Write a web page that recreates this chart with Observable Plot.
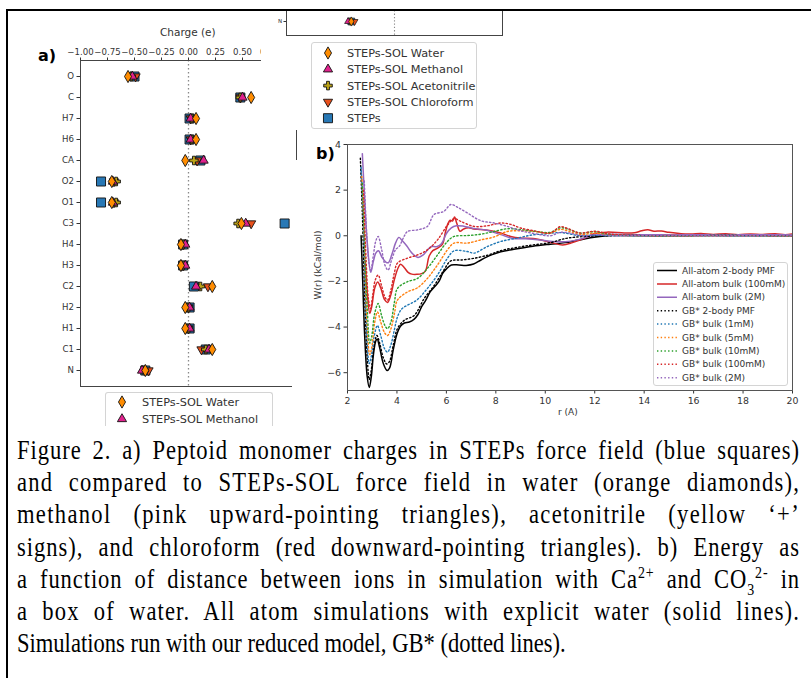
<!DOCTYPE html>
<html>
<head>
<meta charset="utf-8">
<script src="https://cdn.jsdelivr.net/npm/d3@7"></script>
<script src="https://cdn.jsdelivr.net/npm/@observablehq/plot@0.6"></script>
<style>
  html, body { margin: 0; padding: 0; background: #fff; }
  #fig { position: relative; width: 811px; height: 678px; overflow: hidden; background: #fff; font-family: "DejaVu Sans", sans-serif; color: #333; }
  #fig > * { position: absolute; }
  .panel-tag { font-weight: bold; font-size: 16px; color: #000; }
  .lbl { font-size: 9px; color: #333; white-space: nowrap; }
  .legend { background: rgba(255,255,255,0.85); border: 1px solid #d4d4d4; border-radius: 3px; box-sizing: border-box; overflow: hidden; }
  #caption { left: 0; top: 426px; width: 811px; height: 252px; background: #fff; font-family: "Liberation Serif", "Times New Roman", serif; color: #000; }
  #caption .inner { position: absolute; left: 17px; top: 8px; transform-origin: 0 0; }
  #caption .line { height: 32.2px; line-height: 32.2px; text-align: justify; text-align-last: justify; white-space: nowrap; }
  #caption .line.last { text-align-last: left; }
  #caption sup, #caption sub { font-size: 62%; line-height: 0; }
  .bar { background: #000; }
</style>
</head>
<body>
<div id="fig"></div>
<script>
// ---------- a) peptoid monomer partial charges ----------
const atoms = ["O", "C", "H7", "H6", "CA", "O2", "O1", "C3", "H4", "H3", "C2", "H2", "H1", "C1", "N"];
const qSteps        = [-0.50, 0.48, 0.01, 0.01, 0.11, -0.81, -0.81, 0.89, -0.05, -0.05, 0.05, 0.01, 0.01, 0.16, -0.40];
const qChloroform   = [-0.49, 0.48, 0.02, 0.02, 0.08, -0.69, -0.69, 0.58, -0.05, -0.05, 0.18, 0.00, 0.00, 0.12, -0.37];
const qAcetonitrile = [-0.53, 0.48, 0.03, 0.03, 0.05, -0.67, -0.67, 0.46, -0.05, -0.05, 0.11, 0.00, 0.00, 0.16, -0.41];
const qMethanol     = [-0.52, 0.50, 0.02, 0.02, 0.14, -0.70, -0.70, 0.53, -0.03, -0.03, 0.07, 0.01, 0.01, 0.19, -0.43];
const qWater        = [-0.56, 0.58, 0.07, 0.07, -0.03, -0.71, -0.71, 0.49, -0.07, -0.07, 0.22, -0.03, -0.03, 0.22, -0.40];
const chargeTicks = [-1.0, -0.75, -0.5, -0.25, 0, 0.25, 0.5, 0.75];

// ---------- b) ion-pair potential of mean force, W(r) vs r ----------
const aa2body = [[2.55,0.0],[2.6,-1.5],[2.7,-4.5],[2.8,-6.2],[2.88,-6.65],[2.96,-6.2],[3.05,-5.2],[3.14,-4.62],[3.2,-4.52],[3.3,-4.9],[3.45,-5.6],[3.6,-5.9],[3.7,-5.8],[3.85,-5.0],[4.0,-4.3],[4.15,-3.95],[4.3,-3.82],[4.5,-3.78],[4.7,-3.65],[4.85,-3.45],[5.0,-3.1],[5.15,-2.85],[5.35,-2.45],[5.55,-2.2],[5.7,-2.0],[5.85,-1.65],[6.0,-1.45],[6.2,-1.28],[6.5,-1.28],[6.8,-1.3],[7.1,-1.24],[7.4,-1.06],[7.8,-0.85],[8.2,-0.7],[8.8,-0.58],[9.5,-0.46],[10.2,-0.37],[10.8,-0.3],[11.3,-0.2],[11.9,-0.08],[12.5,0.0],[13.2,0.04],[14,0.03],[15,0.02],[16,0.03],[17,0.02],[18,0.03],[19,0.02],[20,0.03]];
const aaBulk100mM = [[2.72,-1.2],[2.8,-2.5],[2.9,-3.4],[2.98,-3.1],[3.1,-2.3],[3.22,-2.02],[3.35,-2.3],[3.5,-2.8],[3.62,-2.92],[3.75,-2.6],[3.9,-1.9],[4.05,-1.4],[4.15,-1.25],[4.3,-1.4],[4.45,-1.6],[4.6,-1.68],[4.8,-1.69],[5.0,-1.66],[5.15,-1.55],[5.3,-0.9],[5.45,-0.65],[5.65,-0.54],[5.85,-0.35],[5.95,0.1],[6.05,0.5],[6.15,0.68],[6.25,0.65],[6.33,0.82],[6.42,0.55],[6.55,0.2],[6.7,0.3],[6.9,0.35],[7.1,0.3],[7.4,0.27],[7.8,0.22],[8.2,0.12],[8.6,-0.03],[9.0,-0.1],[9.5,-0.12],[10.2,-0.28],[10.7,-0.4],[11.1,-0.3],[11.6,-0.1],[12.0,0.1],[12.5,0.16],[13.2,0.12],[13.6,0.13],[13.9,0.22],[14.15,0.26],[14.4,0.2],[14.7,0.21],[15.0,0.15],[15.5,0.09],[15.9,0.08],[16.3,0.1],[16.8,0.06],[17.3,0.09],[17.8,0.05],[18.3,0.08],[18.8,0.06],[19.3,0.09],[19.7,0.05],[20,0.08]];
const aaBulk2M = [[2.6,3.6],[2.7,1.5],[2.8,-0.3],[2.94,-1.6],[3.05,-1.1],[3.15,-0.75],[3.25,-0.66],[3.4,-0.95],[3.55,-1.15],[3.65,-1.18],[3.8,-0.8],[3.95,-0.3],[4.08,-0.07],[4.2,-0.2],[4.4,-0.45],[4.6,-0.75],[4.85,-0.95],[5.05,-0.85],[5.25,-0.6],[5.4,-0.47],[5.6,-0.48],[5.8,-0.35],[6.0,0.1],[6.2,0.35],[6.4,0.44],[6.7,0.42],[7.1,0.32],[7.6,0.25],[8.2,0.05],[8.7,-0.12],[9.2,-0.13],[9.8,-0.18],[10.3,-0.25],[10.8,-0.26],[11.3,-0.18],[11.9,0.01],[12.5,0.06],[13.5,0.05],[15,0.04],[16.5,0.05],[18,0.04],[20,0.05]];
const gb2body = [[2.52,3.4],[2.6,1.0],[2.7,-2.8],[2.8,-5.4],[2.88,-6.3],[2.96,-5.9],[3.05,-5.0],[3.19,-4.37],[3.3,-4.7],[3.45,-5.35],[3.59,-5.62],[3.7,-5.5],[3.85,-4.8],[4.02,-4.07],[4.3,-3.7],[4.7,-3.49],[5.1,-2.75],[5.5,-2.19],[5.9,-1.5],[6.18,-1.1],[6.6,-1.06],[7.1,-0.99],[7.7,-0.84],[8.2,-0.65],[8.9,-0.5],[9.5,-0.4],[10.2,-0.3],[10.8,-0.12],[11.2,-0.06],[11.8,-0.02],[12.5,0.0],[13.5,0.01],[15,0.0],[17,0.01],[20,0.0]];
const gb1mM = [[2.55,3.0],[2.65,0.5],[2.75,-3.5],[2.88,-5.6],[2.96,-5.3],[3.08,-4.4],[3.21,-3.93],[3.35,-4.4],[3.5,-4.95],[3.62,-5.1],[3.75,-4.8],[3.9,-4.1],[4.02,-3.56],[4.2,-3.2],[4.43,-3.04],[4.8,-2.82],[5.23,-2.31],[5.64,-1.72],[6.04,-0.99],[6.31,-0.66],[6.85,-0.69],[7.12,-0.76],[7.66,-0.47],[8.2,-0.25],[8.87,-0.1],[9.5,0.04],[10.0,0.08],[10.5,0.14],[10.8,0.12],[11.3,0.02],[12,0.02],[13,0.0],[14,-0.01],[16,0.0],[18,-0.01],[20,0.0]];
const gb5mM = [[2.58,2.6],[2.68,0.0],[2.78,-3.6],[2.9,-5.2],[2.98,-4.9],[3.1,-3.8],[3.21,-3.34],[3.35,-3.8],[3.5,-4.25],[3.62,-4.37],[3.75,-4.1],[3.9,-3.4],[4.02,-2.82],[4.43,-2.46],[4.83,-2.28],[5.23,-1.87],[5.64,-1.28],[6.04,-0.62],[6.31,-0.32],[6.85,-0.32],[7.39,-0.18],[7.93,-0.05],[8.47,0.19],[9.0,0.22],[9.55,0.19],[10.2,0.12],[10.6,0.28],[10.9,0.22],[11.4,0.05],[12,0.12],[12.6,0.03],[13.5,0.0],[15,0.01],[17,0.0],[20,0.01]];
const gb10mM = [[2.6,2.3],[2.7,-0.5],[2.8,-3.2],[2.9,-4.7],[2.98,-4.4],[3.1,-3.4],[3.24,-2.97],[3.38,-3.5],[3.52,-3.95],[3.62,-4.07],[3.75,-3.8],[3.9,-2.9],[4.02,-2.31],[4.43,-2.01],[4.83,-1.87],[5.23,-1.43],[5.64,-0.84],[6.04,-0.25],[6.31,-0.03],[6.85,0.01],[7.39,0.07],[7.93,0.19],[8.47,0.31],[9.0,0.27],[9.55,0.2],[10.2,0.15],[10.6,0.35],[10.9,0.3],[11.4,0.12],[12,0.18],[12.6,0.06],[13.5,0.01],[15,0.0],[17,0.01],[20,0.0]];
const gb100mM = [[2.65,2.0],[2.75,-1.0],[2.85,-2.8],[2.93,-3.19],[3.02,-2.6],[3.12,-1.95],[3.24,-1.72],[3.38,-2.2],[3.52,-2.7],[3.62,-2.82],[3.75,-2.4],[3.9,-1.6],[4.02,-1.2],[4.43,-0.98],[4.83,-0.84],[5.23,-0.62],[5.64,-0.18],[6.04,0.46],[6.31,0.75],[6.58,0.63],[7.12,0.41],[7.66,0.44],[8.2,0.56],[8.6,0.5],[9.0,0.34],[9.55,0.22],[10.2,0.12],[10.6,0.4],[10.9,0.32],[11.4,0.12],[12,0.2],[12.6,0.08],[13.5,0.02],[15,0.0],[17,0.01],[20,0.0]];
const gb2M = [[2.68,2.4],[2.78,0.0],[2.87,-1.2],[2.94,-1.55],[3.04,-0.9],[3.14,-0.25],[3.24,-0.03],[3.38,-0.6],[3.52,-1.3],[3.64,-1.5],[3.8,-1.0],[3.95,-0.6],[4.09,-0.47],[4.3,0.0],[4.43,0.19],[4.83,0.26],[5.23,0.41],[5.5,0.93],[5.9,1.07],[6.18,1.37],[6.45,1.25],[6.85,1.0],[7.39,0.66],[7.93,0.56],[8.47,0.41],[9.0,0.22],[9.55,0.1],[10.2,0.0],[10.6,0.15],[11.0,0.12],[11.5,0.0],[12,0.05],[12.6,0.01],[13.5,0.0],[15,0.01],[17,0.0],[20,0.01]];
const rTicks = [2, 4, 6, 8, 10, 12, 14, 16, 18, 20];
const wTicks = [-6, -4, -2, 0, 2, 4];

const captionLines = [
  "Figure 2. a) Peptoid monomer charges in STEPs force field (blue squares)",
  "and compared to STEPs-SOL force field in water (orange diamonds),",
  "methanol (pink upward-pointing triangles), acetonitrile (yellow \u2018+\u2019",
  "signs), and chloroform (red downward-pointing triangles). b) Energy as",
  "a function of distance between ions in simulation with Ca<sup>2+</sup> and CO<sub>3</sub><sup>2-</sup> in",
  "a box of water. All atom simulations with explicit water (solid lines).",
  "Simulations run with our reduced model, GB* (dotted lines)."
];

// ---------- marker styles ----------
const triangleDown = {
  draw(ctx, size) {
    const s3 = Math.sqrt(3), y = -Math.sqrt(size / (s3 * 3));
    ctx.moveTo(0, -2 * y);
    ctx.lineTo(-s3 * y, y);
    ctx.lineTo(s3 * y, y);
    ctx.closePath();
  }
};
const series = [
  {name: "STEPs-SOL Water",        q: qWater,        fill: "#ff8c00", symbol: d3.symbolDiamond,  r: 3.7},
  {name: "STEPs-SOL Methanol",     q: qMethanol,     fill: "#e0228d", symbol: d3.symbolTriangle, r: 3.4},
  {name: "STEPs-SOL Acetonitrile", q: qAcetonitrile, fill: "#bca317", symbol: d3.symbolCross,    r: 3.6},
  {name: "STEPs-SOL Chloroform",   q: qChloroform,   fill: "#e8501c", symbol: triangleDown,      r: 3.4},
  {name: "STEPs",                  q: qSteps,        fill: "#2878b5", symbol: d3.symbolSquare,   r: 5.1}
];
// painting order: STEPs underneath, water diamonds on top
const paintOrder = [4, 3, 2, 1, 0];

const lines = [
  {name: "All-atom 2-body PMF",     data: aa2body,     stroke: "#000000", dotted: false},
  {name: "All-atom bulk (100mM)",   data: aaBulk100mM, stroke: "#d62728", dotted: false},
  {name: "All-atom bulk (2M)",      data: aaBulk2M,    stroke: "#9467bd", dotted: false},
  {name: "GB* 2-body PMF",          data: gb2body,     stroke: "#000000", dotted: true},
  {name: "GB* bulk (1mM)",          data: gb1mM,       stroke: "#1f77b4", dotted: true},
  {name: "GB* bulk (5mM)",          data: gb5mM,       stroke: "#ff7f0e", dotted: true},
  {name: "GB* bulk (10mM)",         data: gb10mM,      stroke: "#2ca02c", dotted: true},
  {name: "GB* bulk (100mM)",        data: gb100mM,     stroke: "#d62728", dotted: true},
  {name: "GB* bulk (2M)",           data: gb2M,        stroke: "#9467bd", dotted: true}
];

const fig = document.getElementById("fig");
function put(node, left, top) {
  node.style.position = "absolute";
  node.style.left = left + "px";
  node.style.top = top + "px";
  fig.appendChild(node);
  return node;
}
function div(html, cls, left, top, extra) {
  const d = document.createElement("div");
  if (cls) d.className = cls;
  d.innerHTML = html;
  if (extra) Object.assign(d.style, extra);
  return put(d, left, top);
}
const rowsOf = (q) => atoms.map((a, i) => ({atom: a, q: q[i]}));
const fmt2 = d3.format(".2f");

// ---------- panel a ----------
const chartA = Plot.plot({
  width: 300, height: 400,
  marginLeft: 80, marginRight: 4, marginTop: 60, marginBottom: 14,
  style: {fontFamily: "DejaVu Sans", fontSize: "8.6px", color: "#333", background: "transparent", overflow: "hidden"},
  x: {domain: [-1, 1], axis: "top", ticks: chargeTicks, tickFormat: fmt2, tickSize: 3.5, tickPadding: 2, label: null},
  y: {type: "point", domain: atoms, padding: 0.7, tickSize: 3.5, tickPadding: 3, label: null},
  marks: [
    Plot.ruleX([0], {stroke: "#8a8a8a", strokeWidth: 1.3, strokeDasharray: "1.6,2.4"}),
    ...paintOrder.map(i => Plot.dot(rowsOf(series[i].q), {
      x: "q", y: "atom", symbol: series[i].symbol, r: series[i].r,
      fill: series[i].fill, stroke: "#111", strokeWidth: 0.9
    })),
    Plot.frame({stroke: "#444", strokeWidth: 1})
  ]
});
put(chartA, 0, 0);
div("Charge (e)", "lbl", 160, 26, {fontSize: "10.5px"});
div("a)", "panel-tag", 38, 46);

// legend builder for the marker series
function legendSvg(entries, w, h, x0, tx, y0, dy, fontSize) {
  const svg = d3.create("svg").attr("width", w).attr("height", h);
  entries.forEach((s, i) => {
    const y = y0 + i * dy;
    const size = Math.PI * s.r * s.r;
    svg.append("path").attr("d", d3.symbol(s.symbol, size)())
      .attr("transform", `translate(${x0},${y})`)
      .attr("fill", s.fill).attr("stroke", "#111").attr("stroke-width", 0.9);
    svg.append("text").attr("x", tx).attr("y", y).attr("dy", "0.35em")
      .attr("font-family", "DejaVu Sans").attr("font-size", fontSize).attr("fill", "#333").text(s.name);
  });
  return svg.node();
}
// bottom legend of panel a, cut off by the caption block
const legA2 = document.createElement("div");
legA2.className = "legend";
Object.assign(legA2.style, {width: "168px", height: "34px", borderBottom: "none", borderBottomLeftRadius: "0", borderBottomRightRadius: "0"});
legA2.appendChild(legendSvg(series.slice(0, 2), 166, 33, 16, 36, 9, 17, 11.3));
put(legA2, 105, 392);

// ---------- strip with the N-row fragment and series legend ----------
const strip = div("", "", 261, 11, {width: "260px", height: "119px", background: "#fff", overflow: "hidden"});
const rowN = [atoms.length - 1];
const chartFrag = Plot.plot({
  width: 250, height: 27,
  marginLeft: 24, marginRight: 10, marginTop: -4, marginBottom: 3,
  style: {fontFamily: "DejaVu Sans", fontSize: "5.5px", color: "#333", background: "transparent", overflow: "hidden"},
  x: {domain: [-1, 1], axis: null},
  y: {type: "point", domain: ["N"], tickSize: 2.5, tickPadding: 2, label: null},
  marks: [
    Plot.ruleX([0], {stroke: "#8a8a8a", strokeWidth: 1.1, strokeDasharray: "1.3,2"}),
    ...paintOrder.map(i => Plot.dot(rowN.map(k => ({atom: atoms[k], q: series[i].q[k]})), {
      x: "q", y: "atom", symbol: series[i].symbol, r: series[i].r * 0.75,
      fill: series[i].fill, stroke: "#111", strokeWidth: 0.7
    })),
    Plot.frame({stroke: "#444", strokeWidth: 1})
  ]
});
chartFrag.style.position = "absolute";
chartFrag.style.left = "1px";
chartFrag.style.top = "0px";
strip.appendChild(chartFrag);
const legA1 = document.createElement("div");
legA1.className = "legend";
Object.assign(legA1.style, {position: "absolute", left: "50px", top: "31px", width: "166px", height: "87px"});
legA1.appendChild(legendSvg(series, 164, 85, 16, 35, 10, 16.3, 11.3));
strip.appendChild(legA1);

// ---------- panel b (white sheet underneath, overlapping panel a's right edge) ----------
div("", "", 292, 160, {width: "20px", height: "240px", background: "#fff"});
const chartB = Plot.plot({
  width: 515, height: 300,
  marginLeft: 57, marginRight: 13, marginTop: 14, marginBottom: 40,
  style: {fontFamily: "DejaVu Sans", fontSize: "9.4px", color: "#333", background: "transparent"},
  x: {domain: [2, 20], ticks: rTicks, tickFormat: d3.format("d"), tickSize: 3.5, tickPadding: 3, label: null},
  y: {domain: [-6.78, 4], ticks: wTicks, tickFormat: d3.format("d"), tickSize: 3.5, tickPadding: 3, label: null},
  marks: [
    ...lines.map(l => Plot.line(l.data, {
      x: d => d[0], y: d => d[1], stroke: l.stroke, strokeWidth: l.dotted ? 1.4 : 1.5,
      strokeDasharray: l.dotted ? "1.4,2.3" : null, curve: "catmull-rom", clip: true
    })),
    Plot.frame({stroke: "#555", strokeWidth: 1})
  ]
});
put(chartB, 290, 130);
div("b)", "panel-tag", 316, 144);
div("r (A)", "lbl", 558, 407);
div("W(r) (kCal/mol)", "lbl", 276, 260, {transform: "rotate(-90deg)", transformOrigin: "center center", width: "84px", textAlign: "center"});

// legend of panel b
const legB = document.createElement("div");
legB.className = "legend";
Object.assign(legB.style, {width: "135px", height: "124px"});
{
  const svg = d3.create("svg").attr("width", 133).attr("height", 122);
  lines.forEach((l, i) => {
    const y = 7.5 + i * 13.4;
    svg.append("line").attr("x1", 3).attr("x2", 23).attr("y1", y).attr("y2", y)
      .attr("stroke", l.stroke).attr("stroke-width", 1.5)
      .attr("stroke-dasharray", l.dotted ? "1.4,2.3" : null);
    svg.append("text").attr("x", 28).attr("y", y).attr("dy", "0.35em")
      .attr("font-family", "DejaVu Sans").attr("font-size", 9).attr("fill", "#333").text(l.name);
  });
  legB.appendChild(svg.node());
}
put(legB, 653, 262);

// ---------- caption ----------
const cap = div("", "", 0, 426);
cap.id = "caption";
const inner = document.createElement("div");
inner.className = "inner";
inner.style.fontSize = "27.5px";
cap.appendChild(inner);
captionLines.forEach((t, i) => {
  const l = document.createElement("div");
  l.className = "line" + (i === captionLines.length - 1 ? " last" : "");
  l.innerHTML = t;
  inner.appendChild(l);
});
// condensed serif face: narrow horizontally; fill the 783px measure partly with
// letter spacing and partly with word spacing
{
  const target = 783, k = 0.82, width = target / k;
  inner.style.width = width + "px";
  inner.style.transform = `scaleX(${k})`;
  inner.querySelectorAll(".line").forEach((l, i) => {
    if (l.classList.contains("last")) return;
    const html = l.innerHTML;
    // measure the unjustified run of text
    l.style.textAlignLast = "left";
    const s = document.createElement("span");
    s.innerHTML = html;
    l.innerHTML = "";
    l.appendChild(s);
    const natural = s.getBoundingClientRect().width / k;
    const n = s.textContent.length;
    l.innerHTML = html;
    l.style.textAlignLast = "";
    const extra = Math.max(0, width - natural);
    const share = i === 0 ? 0.6 : 0.5;
    l.style.letterSpacing = (extra * share / n).toFixed(3) + "px";
  });
}

// ---------- figure border ----------
div("", "bar", 6, 9, {width: "805px", height: "2px"});
div("", "bar", 6, 9, {width: "2px", height: "669px"});
</script>
</body>
</html>
